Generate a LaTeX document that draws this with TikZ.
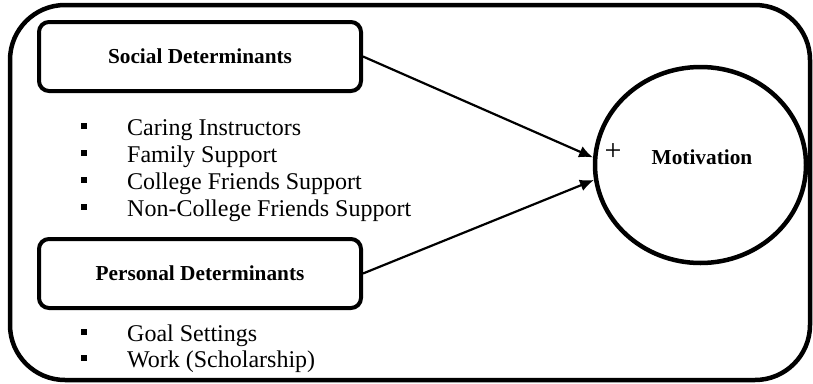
\documentclass[tikz,border=0pt]{standalone}
\usepackage{fontspec}
\setmainfont{Liberation Serif}
\usetikzlibrary{arrows.meta,shapes.geometric}

\tikzset{
  frame/.style={line width=4.5pt, rounded corners=55pt},
  detbox/.style={draw, line width=4pt, rounded corners=10pt,
    minimum width=322pt, minimum height=69pt, inner sep=0pt,
    font=\fontsize{21.3pt}{24pt}\selectfont\bfseries},
  outcome/.style={draw, ellipse, line width=4.5pt,
    minimum width=211pt, minimum height=196pt, inner sep=0pt},
  boldlabel/.style={font=\fontsize{21.3pt}{24pt}\selectfont\bfseries, inner sep=0pt},
  plainlabel/.style={font=\fontsize{24pt}{27pt}\selectfont, inner sep=0pt},
  item/.style={plainlabel, anchor=base west},
  link/.style={line width=2.2pt, -{Latex[length=14pt,width=12pt]}},
}
% square bullet followed by the item text
\newcommand{\sqitem}[1]{\makebox[46pt][l]{\raisebox{6pt}{\rule{6pt}{6pt}}}#1}

\begin{document}
\begin{tikzpicture}[x=1pt,y=-1pt]
  \useasboundingbox (0,0) rectangle (813,383);

  % enclosing frame
  \draw[frame] (10,5) rectangle (810,380);

  % determinant groups
  \node[detbox] (soc) at (200,56.5) {Social Determinants};
  \node[detbox] (per) at (200,273.5) {Personal Determinants};

  % social items
  \node[item] (s1) at (81,135) {\sqitem{Caring Instructors}};
  \node[item] (s2) at (81,162) {\sqitem{Family Support}};
  \node[item] (s3) at (81,189) {\sqitem{College Friends Support}};
  \node[item] (s4) at (81,216) {\sqitem{Non-College Friends Support}};

  % personal items
  \node[item] (p1) at (81,341) {\sqitem{Goal Settings}};
  \node[item] (p2) at (81,367) {\sqitem{Work (Scholarship)}};

  % outcome
  \node[outcome] (mot) at (700.5,165) {};
  \node[boldlabel] (motlbl) at (702,157) {Motivation};
  \node[font=\fontsize{30pt}{30pt}\selectfont, inner sep=0pt] (plus) at (613,152) {+};

  % effects
  \draw[link] (soc.east) -- (mot.176);
  \draw[link] (per.east) -- (mot.-172);
\end{tikzpicture}
\end{document}
